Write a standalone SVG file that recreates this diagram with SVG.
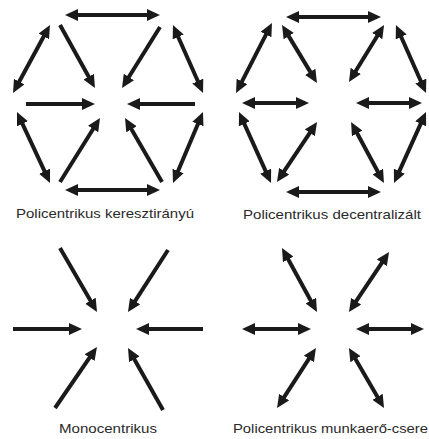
<svg xmlns="http://www.w3.org/2000/svg" width="429" height="439" viewBox="0 0 429 439">
<style>
.a{stroke:#1a1a1a;stroke-width:4;fill:none;marker-end:url(#h)}
.d{stroke:#1a1a1a;stroke-width:4;fill:none;marker-start:url(#h);marker-end:url(#h)}
.t{font-family:"Liberation Sans",Arial,sans-serif;font-size:13.5px;fill:#2a2a2a}
</style>
<defs>
<marker id="h" markerUnits="userSpaceOnUse" markerWidth="14" markerHeight="12" viewBox="0 0 14 12" refX="3" refY="6" orient="auto-start-reverse">
<path d="M0,0 L13,6 L0,12 z" fill="#1a1a1a"/>
</marker>
</defs>
<rect width="429" height="439" fill="#fff"/>
<g id="panel1">
<g id="connectors1">
<line class="d" x1="75" y1="15" x2="150" y2="15"/>
<line class="d" x1="75" y1="190" x2="150" y2="190"/>
<line class="d" x1="45.2" y1="33.8" x2="17.8" y2="84.2"/>
<line class="d" x1="21.2" y1="121.1" x2="45.8" y2="173.9"/>
<line class="d" x1="177" y1="34.2" x2="199" y2="83.8"/>
<line class="d" x1="199.1" y1="121.2" x2="176.9" y2="173.8"/>
<line class="a" x1="60" y1="25" x2="90.1" y2="79.3"/>
<line class="a" x1="160" y1="27" x2="127.3" y2="79.5"/>
<line class="a" x1="26" y1="104" x2="85" y2="104"/>
<line class="a" x1="195" y1="104" x2="137" y2="104"/>
<line class="a" x1="60" y1="182" x2="94.7" y2="126.5"/>
<line class="a" x1="162" y1="182" x2="130" y2="126.7"/>
</g>
<text class="t" x="16" y="218" textLength="178" lengthAdjust="spacingAndGlyphs">Policentrikus keresztirányú</text>
</g>
<g id="panel2">
<g id="connectors2">
<line class="d" x1="296" y1="17" x2="371" y2="17"/>
<line class="d" x1="296" y1="192" x2="371" y2="192"/>
<line class="d" x1="267.4" y1="31.9" x2="240.6" y2="84.1"/>
<line class="d" x1="243.1" y1="121.1" x2="266.9" y2="173.9"/>
<line class="d" x1="400" y1="34.2" x2="422" y2="83.8"/>
<line class="d" x1="421.9" y1="121.1" x2="398.1" y2="173.9"/>
<line class="d" x1="287.2" y1="33.6" x2="311.8" y2="74.4"/>
<line class="d" x1="378.8" y1="33.5" x2="354.2" y2="73.5"/>
<line class="d" x1="252" y1="103" x2="299" y2="103"/>
<line class="d" x1="366" y1="103" x2="412" y2="103"/>
<line class="d" x1="311.5" y1="130.3" x2="282.5" y2="173.7"/>
<line class="d" x1="355.8" y1="130.8" x2="379.2" y2="174.2"/>
</g>
<text class="t" x="243" y="219" textLength="178" lengthAdjust="spacingAndGlyphs">Policentrikus decentralizált</text>
</g>
<g id="panel3">
<g id="connectors3">
<line class="a" x1="60" y1="248" x2="92" y2="303.3"/>
<line class="a" x1="168" y1="250" x2="133.4" y2="303.6"/>
<line class="a" x1="13" y1="329" x2="72" y2="329"/>
<line class="a" x1="203" y1="329" x2="146" y2="329"/>
<line class="a" x1="55" y1="408" x2="91.3" y2="355.2"/>
<line class="a" x1="163" y1="410" x2="132.9" y2="356.7"/>
</g>
<text class="t" x="59" y="433" textLength="98" lengthAdjust="spacingAndGlyphs">Monocentrikus</text>
</g>
<g id="panel4">
<g id="connectors4">
<line class="d" x1="286.8" y1="256.8" x2="312.2" y2="303.2"/>
<line class="d" x1="383.5" y1="260.3" x2="354.5" y2="303.7"/>
<line class="d" x1="252" y1="329" x2="301" y2="329"/>
<line class="d" x1="366" y1="329" x2="414" y2="329"/>
<line class="d" x1="310.5" y1="356.4" x2="282.5" y2="399.6"/>
<line class="d" x1="354" y1="356.6" x2="379" y2="399.4"/>
</g>
<text class="t" x="233" y="433" textLength="195" lengthAdjust="spacingAndGlyphs">Policentrikus munkaerő-csere</text>
</g>
</svg>
